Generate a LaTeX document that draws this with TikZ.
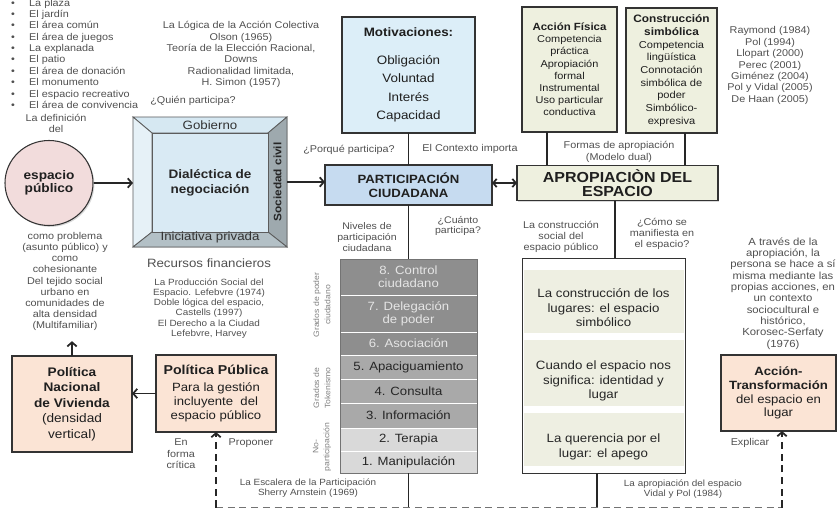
\documentclass[tikz,border=0pt]{standalone}
\usepackage{fontspec}
\setmainfont{Liberation Sans}[FakeStretch=1.1]
\usetikzlibrary{positioning,arrows.meta,shadows,shapes.geometric}
\definecolor{txtgray}{HTML}{505050}
\definecolor{boxline}{HTML}{333333}
\definecolor{motivblue}{HTML}{DCEEF8}
\definecolor{partblue}{HTML}{C6DBF0}
\definecolor{cream}{HTML}{EEF0DF}
\definecolor{peach}{HTML}{FBE4D5}
\definecolor{pinkfill}{HTML}{F2DCDC}
\definecolor{bevtop}{HTML}{D6E8F2}
\definecolor{bevleft}{HTML}{E6F1F7}
\definecolor{bevright}{HTML}{9EA9AE}
\definecolor{bevbot}{HTML}{B3C0C6}
\definecolor{bevin}{HTML}{D9EAF4}
\definecolor{rungdark}{HTML}{8E8E8E}
\definecolor{rungmid}{HTML}{A9A9A9}
\definecolor{runglight}{HTML}{D9D9D9}
\definecolor{bandfill}{HTML}{EEEFE2}
\newcommand{\bul}{\makebox[0.54cm][l]{\textbullet}}

\begin{document}
\begin{tikzpicture}[x=0.03cm,y=-0.03cm,
note/.style={font=\fontsize{8.4}{9.7}\selectfont, text=txtgray, align=center, inner sep=0pt},
cite/.style={note, font=\fontsize{7.7}{8.7}\selectfont},
sidelabel/.style={note, font=\fontsize{6.7}{9.5}\selectfont, text=black!50, rotate=90},
panel/.style={draw=boxline, line width=0.9pt, align=center, inner sep=2pt, outer sep=0pt, text=black!88, drop shadow={shadow xshift=1.2pt, shadow yshift=-1.2pt, opacity=0.3}},
rung/.style={draw=white, line width=0.7pt, minimum width=4.11cm, inner sep=0pt, outer sep=0pt, align=center, font=\fontsize{10.2}{11.2}\selectfont},
band/.style={align=center, inner sep=0pt, font=\fontsize{10.3}{12.4}\selectfont, text=black!85},
bevel/.style={draw=boxline!80, line width=0.7pt},
link/.style={line width=1.5pt, black!85},
flow/.style={link, -{Straight Barb[length=3.5pt, width=8pt]}},
twoway/.style={link, {Straight Barb[length=3pt, width=7pt]}-{Straight Barb[length=3pt, width=7pt]}},
back/.style={link, dash pattern=on 6pt off 4pt, -{Straight Barb[length=3.5pt, width=8pt]}}]
\useasboundingbox (0,0) rectangle (838,509);

% left column
\node[note, align=left, anchor=south west] (lista) at (11,108.7) {\bul La plaza\\\bul El jardín\\\bul El área común\\\bul El área de juegos\\\bul La explanada\\\bul El patio\\\bul El área de donación\\\bul El monumento\\\bul El espacio recreativo\\\bul El área de convivencia};
\node[note] (definicion) at (56,123.5) {La definición\\del};
\node[draw=boxline, line width=0.9pt, fill=pinkfill, ellipse, minimum width=2.64cm, minimum height=2.55cm, inner sep=0pt, align=center, font=\bfseries\fontsize{10.6}{11}\selectfont, text=black!88, drop shadow={shadow xshift=1.2pt, shadow yshift=-1.2pt, opacity=0.3}] (espacio) at (49,183) {espacio\\público};
\node[note, font=\fontsize{8.4}{9.5}\selectfont] (problema) at (65,281.5) {como problema\\(asunto público) y\\como\\cohesionante\\Del tejido social\\urbano en\\comunidades de\\alta densidad\\(Multifamiliar)};
\node[panel, fill=peach, minimum width=3.6cm, minimum height=2.88cm, font=\fontsize{10.6}{13.2}\selectfont] (vivienda) at (72,404) {\textbf{Política}\\\textbf{Nacional}\\\textbf{de Vivienda}\\(densidad\\vertical)};
\node[panel, fill=peach, minimum width=3.6cm, minimum height=2.31cm, font=\fontsize{10.2}{11.6}\selectfont] (publica) at (216,393.5) {{\bfseries\fontsize{11}{12}\selectfont Política Pública}\\[3pt]Para la gestión\\incluyente\ \ del\\espacio público};
\node[note] (critica) at (181,454) {En\\forma\\crítica};
\node[note] (proponer) at (251,443) {Proponer};

% dialectica
\node[minimum width=4.62cm, minimum height=3.9cm, inner sep=0pt, outer sep=0pt, fill=bevleft, drop shadow={shadow xshift=1.2pt, shadow yshift=-1.2pt, opacity=0.3}] (dial) at (210,182) {};
\node[minimum width=3.48cm, minimum height=2.97cm, inner sep=0pt, outer sep=0pt] (dialin) at (210,182.5) {};
\filldraw[bevel, fill=bevtop] (dial.north west) -- (dial.north east) -- (dialin.north east) -- (dialin.north west) -- cycle;
\filldraw[bevel, fill=bevleft] (dial.north west) -- (dialin.north west) -- (dialin.south west) -- (dial.south west) -- cycle;
\filldraw[bevel, fill=bevright] (dial.north east) -- (dial.south east) -- (dialin.south east) -- (dialin.north east) -- cycle;
\filldraw[bevel, fill=bevbot] (dial.south west) -- (dialin.south west) -- (dialin.south east) -- (dial.south east) -- cycle;
\filldraw[bevel, fill=bevin] (dialin.north west) rectangle (dialin.south east);
\node[font=\fontsize{10.3}{12}\selectfont, text=black!80, inner sep=0pt] (gobierno) at (210,125) {Gobierno};
\node[font=\fontsize{10.3}{12}\selectfont, text=black!80, inner sep=0pt] (privada) at (210,237) {Iniciativa privada};
\node[font=\bfseries\fontsize{9.2}{11}\selectfont, text=black!85, inner sep=0pt, rotate=90] (civil) at (277.5,182) {Sociedad civil};
\node[align=center, font=\bfseries\fontsize{10.5}{12.5}\selectfont, text=black!85] (negociacion) at (dialin) {Dialéctica de\\negociación};
\node[note] (quien) at (193,101) {¿Quién participa?};
\node[note] (logica) at (241,54.5) {La Lógica de la Acción Colectiva\\Olson (1965)\\Teoría de la Elección Racional,\\Downs\\Radionalidad limitada,\\H. Simon (1957)};
\node[note, font=\fontsize{10.3}{12}\selectfont] (recursos) at (209,263) {Recursos financieros};
\node[cite] (lefebvre) at (209,308.5) {La Producción Social del\\Espacio. Lefebvre (1974)\\Doble lógica del espacio,\\Castells (1997)\\El Derecho a la Ciudad\\Lefebvre, Harvey};

% participacion
\node[panel, fill=motivblue, minimum width=3.99cm, minimum height=3.48cm, font=\fontsize{10.4}{15.8}\selectfont] (motiv) at (408.5,75) {\textbf{Motivaciones:}\\[8pt]Obligación\\Voluntad\\Interés\\Capacidad};
\node[note] (porque) at (349,150) {¿Porqué participa?};
\node[note] (contexto) at (470,149) {El Contexto importa};
\node[panel, fill=partblue, line width=1.2pt, minimum width=5.01cm, minimum height=1.2cm, font=\bfseries\fontsize{10.2}{12}\selectfont] (part) at (408.5,185) {PARTICIPACIÓN\\CIUDADANA};
\node[note, font=\fontsize{8.2}{9.2}\selectfont] (niveles) at (367,237) {Niveles de\\participación\\ciudadana};
\node[note, font=\fontsize{8.2}{9.2}\selectfont] (cuanto) at (458,226) {¿Cuánto\\participa?};
\node[rung, fill=rungdark, text=white!90!black, minimum height=1.08cm] (r8) at (408.5,277) {8. Control\\ciudadano};
\node[rung, fill=rungdark, text=white!90!black, minimum height=1.11cm, below=0pt of r8] (r7) {7. Delegación\\de poder};
\node[rung, fill=rungdark, text=white!90!black, minimum height=0.69cm, below=0pt of r7] (r6) {6. Asociación};
\node[rung, fill=rungmid, text=black!85, minimum height=0.72cm, below=0pt of r6] (r5) {5. Apaciguamiento};
\node[rung, fill=rungmid, text=black!85, minimum height=0.72cm, below=0pt of r5] (r4) {4. Consulta};
\node[rung, fill=rungmid, text=black!85, minimum height=0.75cm, below=0pt of r4] (r3) {3. Información};
\node[rung, fill=runglight, text=black!85, minimum height=0.69cm, below=0pt of r3] (r2) {2. Terapia};
\node[rung, fill=runglight, text=black!85, minimum height=0.66cm, below=0pt of r2] (r1) {1. Manipulación};
\draw[black!55, line width=0.8pt] (r8.north west) rectangle (r1.south east);
\node[sidelabel] (poder) at (322,305) {Grados de poder\\ciudadano};
\node[sidelabel] (tokenismo) at (322,388) {Grados de\\Tokenismo};
\node[sidelabel] (nopart) at (322,447) {No-\\participación};
\node[cite] (escalera) at (308,488.5) {La Escalera de la Participación\\Sherry Arnstein (1969)};

% apropiacion
\node[panel, fill=cream, minimum width=2.85cm, minimum height=3.75cm, font=\fontsize{8.5}{10.4}\selectfont] (fisica) at (569.5,69.5) {{\bfseries\fontsize{8.9}{10.4}\selectfont Acción Física}\\Competencia\\práctica\\Apropiación\\formal\\Instrumental\\Uso particular\\conductiva};
\node[panel, fill=cream, minimum width=2.73cm, minimum height=3.75cm, font=\fontsize{8.6}{10.8}\selectfont] (simbolica) at (671.5,70.5) {{\bfseries\fontsize{9.2}{10.8}\selectfont Construcción}\\{\bfseries\fontsize{9.2}{10.8}\selectfont simbólica}\\Competencia\\lingüística\\Connotación\\simbólica de\\poder\\Simbólico-\\expresiva};
\node[note] (autores) at (770,65.5) {Raymond (1984)\\Pol (1994)\\Llopart (2000)\\Perec (2001)\\Giménez (2004)\\Pol y Vidal (2005)\\De Haan (2005)};
\node[note] (formas) at (619,152) {Formas de apropiación\\(Modelo dual)};
\node[panel, fill=cream, line width=1.2pt, minimum width=6.03cm, minimum height=1.05cm, font=\bfseries\fontsize{12.4}{12}\selectfont] (aprop) at (617.5,183) {APROPIACIÒN DEL\\ESPACIO};
\node[note] (social) at (561,237) {La construcción\\social del\\espacio público};
\node[note] (manifiesta) at (662,234) {¿Cómo se\\manifiesta en\\el espacio?};
\node[draw=boxline, line width=0.8pt, fill=white, minimum width=4.89cm, minimum height=6.45cm, outer sep=0pt, drop shadow={shadow xshift=1.2pt, shadow yshift=-1.2pt, opacity=0.3}] (lugares) at (603.5,365.5) {};
\fill[bandfill] (523.5,270) rectangle (683.5,333);
\fill[bandfill] (523.5,340) rectangle (683.5,406);
\fill[bandfill] (523.5,413) rectangle (683.5,466);
\node[band] (simbolico) at (603.5,308) {La construcción de los\\lugares: el espacio\\simbólico};
\node[band] (identidad) at (603.5,381) {Cuando el espacio nos\\significa: identidad y\\lugar};
\node[band] (apego) at (603.5,447) {La querencia por el\\lugar: el apego};
\node[cite] (vidal) at (683,489.5) {La apropiación del espacio\\Vidal y Pol (1984)};
\node[note, font=\fontsize{8.8}{9.65}\selectfont] (korosec) at (783,293.5) {A través de la\\apropiación, la\\persona se hace a sí\\misma mediante las\\propias acciones, en\\un contexto\\sociocultural e\\histórico,\\Korosec-Serfaty\\(1976)};
\node[panel, fill=peach, minimum width=3.45cm, minimum height=2.28cm, font=\fontsize{10.2}{11.8}\selectfont] (accion) at (778.5,393) {\textbf{Acción-}\\\textbf{Transformación}\\del espacio en\\lugar};
\node[note] (explicar) at (750,443) {Explicar};

% connectors
\coordinate (ppfoot) at (216,507.5);
\coordinate (ladfoot) at (408.5,507.5);
\coordinate (lugfoot) at (597,507.5);
\coordinate (atfoot) at (782,507.5);
\draw[flow] (espacio.east) -- (espacio.east -| dial.west);
\draw[flow] (dial.east) -- (dial.east -| part.west);
\draw[twoway] (aprop.west -| part.east) -- (aprop.west);
\draw[link] (motiv.south) -- (part.north);
\draw[link] (part.south) -- (r8.north);
\draw[link] (r1.south) -- (ladfoot);
\draw[link] ([xshift=-0.675cm]fisica.south) -- ([xshift=-0.675cm]fisica.south |- aprop.north);
\draw[link] ([xshift=0.405cm]simbolica.south) -- ([xshift=0.405cm]simbolica.south |- aprop.north);
\draw[link] ([xshift=-0.075cm]aprop.south) -- ([xshift=-0.075cm]aprop.south |- lugares.north);
\draw[link] (lugares.south -| lugfoot) -- (lugfoot);
\draw[flow] (publica.west) -- (publica.west -| vivienda.east);
\draw[flow, shorten >=0.31cm] (vivienda.north) -- (vivienda.north |- problema.south);
\draw[link, black!55, line width=1.4pt, dash pattern=on 6pt off 4pt] (ppfoot) -- (atfoot);
\draw[back] (ppfoot) -- (publica.south);
\draw[back] (atfoot) -- (atfoot |- accion.south);
\end{tikzpicture}
\end{document}
